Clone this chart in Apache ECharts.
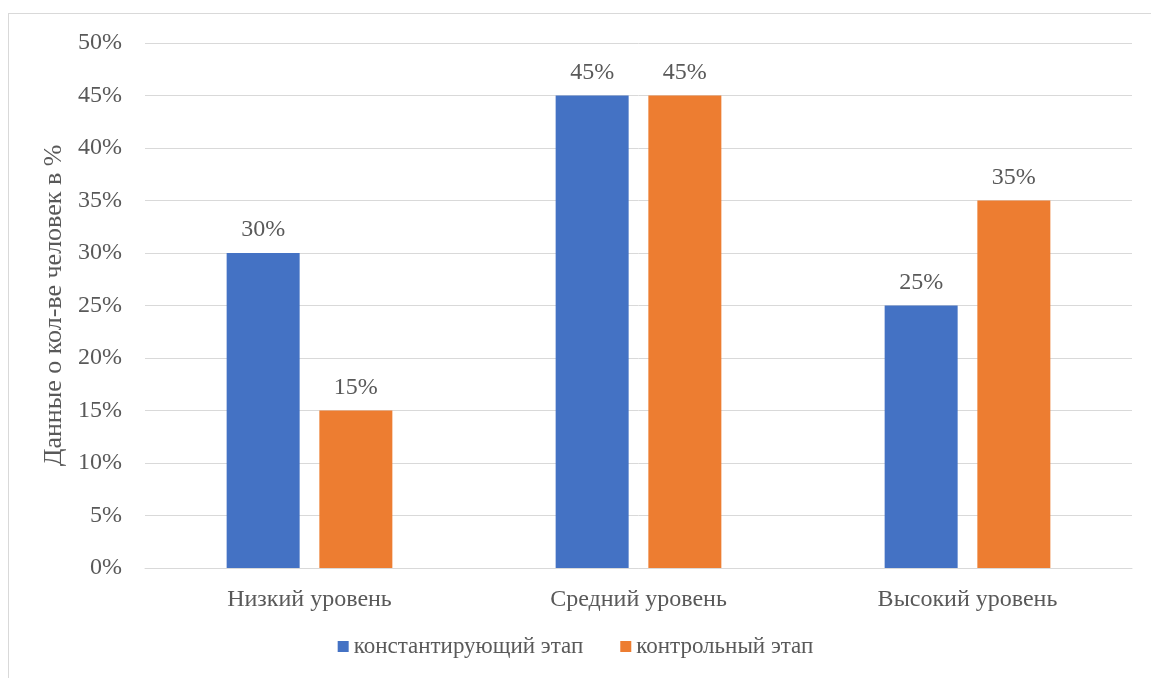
<!DOCTYPE html>
<html><head><meta charset="utf-8">
<script src="https://cdn.jsdelivr.net/npm/echarts@6/dist/echarts.min.js"></script>
<style>html,body{margin:0;padding:0;background:#fff}#c{width:1151px;height:678px}
#frame{position:absolute;left:8px;top:13px;width:1150px;height:680px;border:1px solid #d9d9d9;box-sizing:border-box;pointer-events:none}</style>
</head><body><div id="c"></div><div id="frame"></div>
<script>
const categories = ['Низкий уровень', 'Средний уровень', 'Высокий уровень'];
const seriesNames = ['константирующий этап', 'контрольный этап'];
const stage1 = [30, 45, 25];
const stage2 = [15, 45, 35];
const yTicks = [0, 5, 10, 15, 20, 25, 30, 35, 40, 45, 50];

const font = '"Liberation Serif", "Times New Roman", serif';
const txt = '#595959';
const chart = echarts.init(document.getElementById('c'), null, {renderer: 'canvas'});
const lbl = {show: true, position: 'top', formatter: p => p.value + '%', color: txt, fontFamily: font, fontSize: 24, distance: 11};
chart.setOption({
  animation: false,
  textStyle: {fontFamily: font},
  grid: {left: 145, right: 19, top: 43, bottom: 110},
  legend: {
    data: seriesNames, bottom: 15, left: 'center', itemWidth: 11, itemHeight: 11, itemGap: 37,
    icon: 'rect', textStyle: {color: txt, fontFamily: font, fontSize: 23}
  },
  xAxis: {
    type: 'category', data: categories,
    axisLine: {lineStyle: {color: '#d9d9d9', width: 1}},
    axisTick: {show: false},
    axisLabel: {color: txt, fontFamily: font, fontSize: 24, margin: 20}
  },
  yAxis: {
    type: 'value', min: 0, max: 50, interval: 5,
    name: 'Данные о кол-ве человек в %', nameLocation: 'middle', nameGap: 75, nameRotate: 90,
    nameTextStyle: {color: txt, fontFamily: font, fontSize: 26},
    axisLine: {show: false}, axisTick: {show: false},
    axisLabel: {color: txt, fontFamily: font, fontSize: 24, margin: 23, formatter: v => yTicks.includes(v) ? v + '%' : ''},
    splitLine: {lineStyle: {color: '#d9d9d9', width: 1}}
  },
  series: [
    {name: seriesNames[0], type: 'bar', data: stage1, barWidth: 73, barGap: '27%', itemStyle: {color: '#4472C4'}, label: lbl},
    {name: seriesNames[1], type: 'bar', data: stage2, barWidth: 73, itemStyle: {color: '#ED7D31'}, label: lbl}
  ]
});
</script></body></html>
